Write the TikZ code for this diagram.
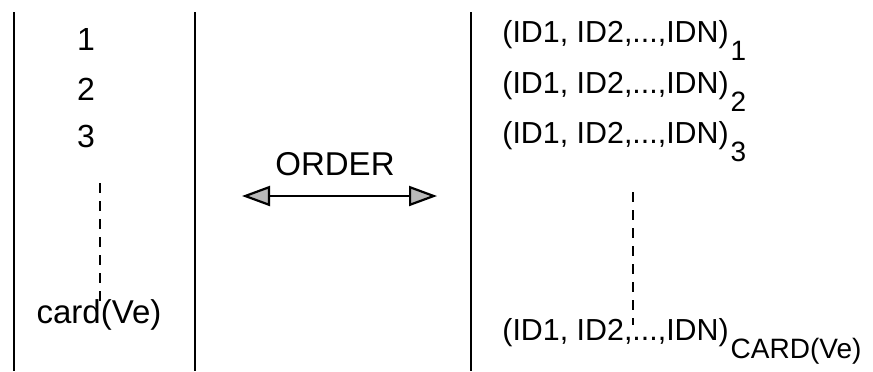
\documentclass[tikz,border=0pt]{standalone}
\usepackage{fontspec}
\setmainfont{Liberation Sans}
\usetikzlibrary{arrows.meta}
\begin{document}
\begin{tikzpicture}
[
x=0.5pt,y=-0.5pt,
rule/.style={draw,line width=1.4pt},
dots/.style={draw,dash pattern=on 5pt off 4pt,line width=1.2pt},
lbl/.style={inner sep=0pt,anchor=base,font=\fontsize{16}{18}\selectfont},
big/.style={inner sep=0pt,anchor=base,font=\fontsize{16.5}{19}\selectfont},
tuple/.style={inner sep=0pt,anchor=base west,font=\fontsize{15.2}{17}\selectfont},
twoway/.style={draw,line width=1.1pt,
  {Triangle[length=14pt,width=10pt,fill=gray!55]}-{Triangle[length=14pt,width=10pt,fill=gray!55]}}
]

\def\tuple#1{(ID1, ID2,...,IDN)\kern1pt\raisebox{-9pt}{\fontsize{14}{16}\selectfont #1}}

\useasboundingbox (0,0) rectangle (873,371);

% the three columns
\foreach \x in {14,195,471} {
  \draw[rule] (\x,12) -- (\x,371);
}

\foreach \i/\ly/\ry in {1/50/42,2/100/93,3/147/143} {
  \node[lbl] (num\i) at (86,\ly) {\i};
  \node[tuple] (row\i) at (502,\ry) {\tuple{\i}};
}
\node[big] (numN) at (99,323) {card(Ve)};
\node[tuple] (rowN) at (502,340) {\tuple{CARD(Ve)}};

\coordinate (ltop) at (100,183);
\coordinate (lbot) at (100,303);
\coordinate (rtop) at (633,192);
\coordinate (rbot) at (633,325);
\draw[dots] (ltop) -- (lbot);
\draw[dots] (rtop) -- (rbot);

\node[big] (order) at (335,175) {ORDER};
\coordinate (arrL) at (242,196);
\coordinate (arrR) at (437,196);
\draw[twoway] (arrL) -- (arrR);

\end{tikzpicture}
\end{document}
